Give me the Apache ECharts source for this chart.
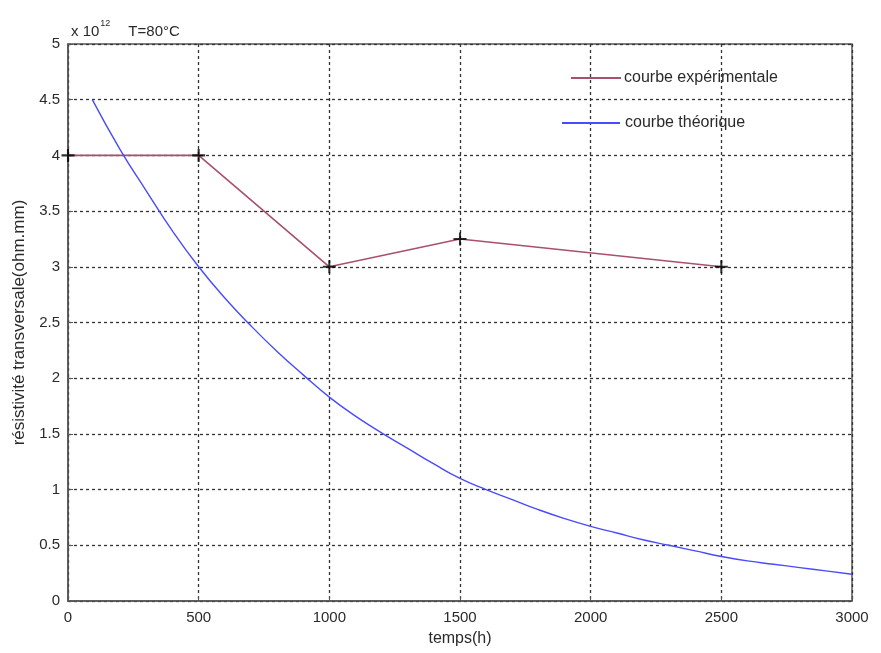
<!DOCTYPE html>
<html><head><meta charset="utf-8">
<script src="https://cdn.jsdelivr.net/npm/echarts@6/dist/echarts.min.js"></script>
<style>html,body{margin:0;padding:0;background:#fff}#c{width:881px;height:653px}</style>
</head><body><div id="c"></div>
<script>
// Experimental data
const xExp = [0, 500, 1000, 1500, 2500];
const yExp = [4.0, 4.0, 3.0, 3.25, 3.0];
// Theoretical curve
const xTheo = [93, 200, 300, 400, 500, 600, 700, 800, 900, 1000, 1100, 1200, 1300, 1400, 1500, 1600, 1700, 1800, 1900, 2000, 2100, 2200, 2300, 2400, 2500, 2600, 2700, 2800, 2900, 3000];
const yTheo = [4.5, 4.05, 3.68, 3.32, 3.0, 2.72, 2.47, 2.24, 2.03, 1.83, 1.66, 1.51, 1.37, 1.23, 1.1, 1.0, 0.91, 0.82, 0.74, 0.67, 0.61, 0.55, 0.5, 0.45, 0.4, 0.36, 0.33, 0.3, 0.27, 0.24];
const seriesNames = ['courbe expérimentale', 'courbe théorique'];
const xTicks = [0, 500, 1000, 1500, 2000, 2500, 3000];
const yTicks = [0, 0.5, 1, 1.5, 2, 2.5, 3, 3.5, 4, 4.5, 5];

const expData = xExp.map((x, i) => [x, yExp[i]]);
const theoData = xTheo.map((x, i) => [x, yTheo[i]]);
const FONT = "'Liberation Sans', Arial, sans-serif";
const TXT = '#2a2a2a';
const FS = 15;

const chart = echarts.init(document.getElementById('c'));
chart.setOption({
  animation: false,
  backgroundColor: '#fff',
  title: {
    left: 66, top: 14,
    text: '{a|x 10}{s|12}{b|T=80°C}',
    textStyle: {
      fontWeight: 'normal',
      rich: {
        a: { fontSize: FS, fontFamily: FONT, fontWeight: 'normal', color: TXT, verticalAlign: 'bottom', lineHeight: 20 },
        s: { fontSize: 9, fontFamily: FONT, fontWeight: 'normal', color: TXT, verticalAlign: 'top', lineHeight: 20, padding: [0, 0, 9, 1] },
        b: { fontSize: FS, fontFamily: FONT, fontWeight: 'normal', color: TXT, verticalAlign: 'bottom', lineHeight: 20, padding: [0, 0, 0, 18] }
      }
    }
  },
  legend: [
    { data: [seriesNames[0]], left: 566, top: 65, icon: 'rect', itemWidth: 50, itemHeight: 2, itemGap: 4,
      textStyle: { fontFamily: FONT, fontSize: 16, color: TXT, padding: [0, 0, 0, -2] } },
    { data: [seriesNames[1]], left: 557, top: 110, icon: 'rect', itemWidth: 58, itemHeight: 2,
      textStyle: { fontFamily: FONT, fontSize: 16, color: TXT, padding: [0, 0, 0, 0] } }
  ],
  grid: { left: 68, right: 29, top: 44, bottom: 52, show: true, borderColor: '#555', borderWidth: 1.5,
    backgroundColor: '#fff', containLabel: false, outerBoundsMode: 'none' },
  xAxis: {
    type: 'value', min: 0, max: 3000, interval: 500,
    name: 'temps(h)', nameLocation: 'middle', nameGap: 30,
    nameTextStyle: { fontFamily: FONT, fontSize: 16, color: TXT },
    axisLine: { show: true, lineStyle: { color: '#555', width: 1.5 } },
    axisTick: { show: true, inside: true, length: 5, lineStyle: { color: '#555' } },
    axisLabel: { fontFamily: FONT, fontSize: FS, color: TXT, margin: 9, formatter: v => String(v) },
    splitLine: { show: true, lineStyle: { color: '#333', type: [3, 3], width: 1.3 } }
  },
  yAxis: {
    type: 'value', min: 0, max: 5, interval: 0.5,
    name: 'résistivité transversale(ohm.mm)', nameLocation: 'middle', nameGap: 35, nameRotate: 90,
    nameTextStyle: { fontFamily: FONT, fontSize: 17, color: TXT },
    axisLine: { show: true, lineStyle: { color: '#555', width: 1.5 } },
    axisTick: { show: true, inside: true, length: 5, lineStyle: { color: '#555' } },
    axisLabel: { fontFamily: FONT, fontSize: FS, color: TXT, margin: 8, formatter: v => String(v) },
    splitLine: { show: true, lineStyle: { color: '#333', type: [3, 3], width: 1.3 } }
  },
  series: [
    { name: seriesNames[0], type: 'line', data: expData, symbol: 'none', color: '#a8506e',
      lineStyle: { color: '#a8506e', width: 1.6 }, z: 3 },
    { name: seriesNames[1], type: 'line', data: theoData, symbol: 'none', smooth: true, color: '#4a4aff',
      lineStyle: { color: '#4a4aff', width: 1.4 }, z: 3 },
    { name: 'markers', type: 'scatter', data: expData,
      symbol: 'path://M4.2,0 H5.8 V4.2 H10 V5.8 H5.8 V10 H4.2 V5.8 H0 V4.2 H4.2 Z',
      symbolSize: 13, itemStyle: { color: '#000' }, z: 4 }
  ]
});
</script></body></html>
